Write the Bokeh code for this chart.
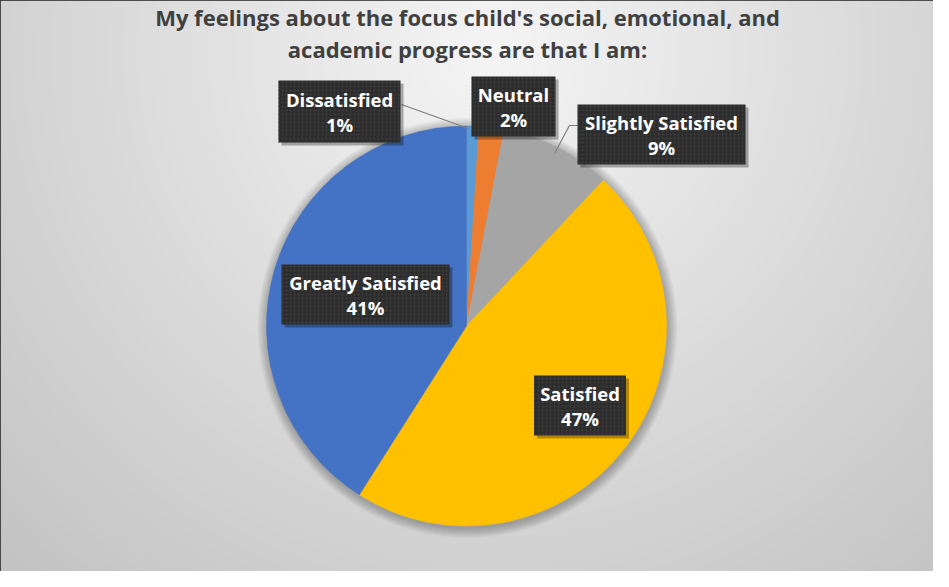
import numpy as np
from bokeh.plotting import figure
from bokeh.models import Range1d, ColumnDataSource
from bokeh.core.properties import value
from bokeh.embed import file_html
from bokeh.resources import INLINE

# ---------------- data ----------------
title_lines = ["My feelings about the focus child's social, emotional, and",
               "academic progress are that I am:"]
categories = ["Dissatisfied", "Neutral", "Slightly Satisfied", "Satisfied", "Greatly Satisfied"]
percents = [1, 2, 9, 47, 41]
colors = ["#5B9BD5", "#ED7D31", "#A5A5A5", "#FFC000", "#4472C4"]

# ---------------- layout (reference pixel coords, y down) ----------------
W, H = 933, 571
REF_H = 587
def Y(y):  # reference y (down) -> data y (up)
    return REF_H - y

cx, cy, R = 474, Y(333.5), 200
label_cx = [347, 521, 669, 587.5, 373]
label_cy = [119, 114, 142, 413, 302]
label_w = [122, 84, 168, 92, 168]
label_h = [62, 60, 60, 60, 60]
FONT = "Open Sans"

p = figure(width=W, height=H, x_range=Range1d(8, 8 + W), y_range=Range1d(8, 8 + H),
           output_backend="svg", toolbar_location=None, min_border=0)
p.axis.visible = False
p.grid.visible = False
p.outline_line_color = "#1e1e1e"
p.outline_line_width = 4
p.background_fill_color = "#e0e0e0"
p.border_fill_color = "#1e1e1e"

# background radial gradient (decorative)
xs = np.arange(W) + 8.5
ys_ref = REF_H - (np.arange(H) + 8.5)  # row 0 = bottom
XX, YY = np.meshgrid(xs, ys_ref)
d = np.sqrt((XX - 500) ** 2 + (YY - 60) ** 2)
t = np.clip(d / 740.0, 0, 1)
g = (245 - (245 - 193) * t).astype(np.uint32)
img = (255 << 24) | (g << 16) | (g << 8) | g
p.image_rgba(image=[img.astype(np.uint32)], x=8, y=8, dw=W, dh=H)

# soft shadow around pie
for k in range(1, 11):
    p.circle(x=cx + 1, y=cy - 2, radius=R + k, fill_color="black", fill_alpha=0.028, line_color=None)

# pie wedges, clockwise from top
frac = np.array(percents, dtype=float) / sum(percents)
cum = np.concatenate([[0], np.cumsum(frac)])
start = np.pi / 2 - 2 * np.pi * cum[1:]
end = np.pi / 2 - 2 * np.pi * cum[:-1]
src = ColumnDataSource(dict(start=start, end=end, color=colors, cat=categories))
p.wedge(x=cx, y=cy, radius=R, start_angle="start", end_angle="end", fill_color="color",
        line_color="color", line_width=0.5, source=src)

# leader lines
p.line(x=[409, 476], y=[Y(112), Y(136)], line_color="#7f7f7f", line_width=1.2)
p.line(x=[585, 577, 562], y=[Y(133), Y(133), Y(161)], line_color="#7f7f7f", line_width=1.2)

# label boxes with shadow
lsrc = ColumnDataSource(dict(
    x=label_cx, y=[Y(v) for v in label_cy], w=label_w, h=label_h,
    sx=[v + 3 for v in label_cx], sy=[Y(v) - 3 for v in label_cy],
    name=categories, pct=[f"{v}%" for v in percents],
    y1=[Y(v - 12.5) for v in label_cy], y2=[Y(v + 13) for v in label_cy]))
p.rect(x="sx", y="sy", width="w", height="h", fill_color="black", fill_alpha=0.3,
       line_color=None, source=lsrc)
p.rect(x="x", y="y", width="w", height="h", fill_color="#2d2d2d", line_color=None,
       hatch_pattern="dot", hatch_color="#3f3f3f", hatch_scale=4, hatch_weight=1.2, source=lsrc)
p.text(x="x", y="y1", text="name", text_align="center", text_baseline="middle",
       text_font=value(FONT), text_font_style="bold", text_font_size="18.5px",
       text_color="white", source=lsrc)
p.text(x="x", y="y2", text="pct", text_align="center", text_baseline="middle",
       text_font=value(FONT), text_font_style="bold", text_font_size="18.5px",
       text_color="white", source=lsrc)

# title
p.text(x=[475, 475], y=[Y(24), Y(56)], text=title_lines, text_align="center",
       text_baseline="middle", text_font=value(FONT), text_font_style="bold",
       text_font_size="22px", text_color="#404040")

open("out.html", "w").write(file_html(p, INLINE))
